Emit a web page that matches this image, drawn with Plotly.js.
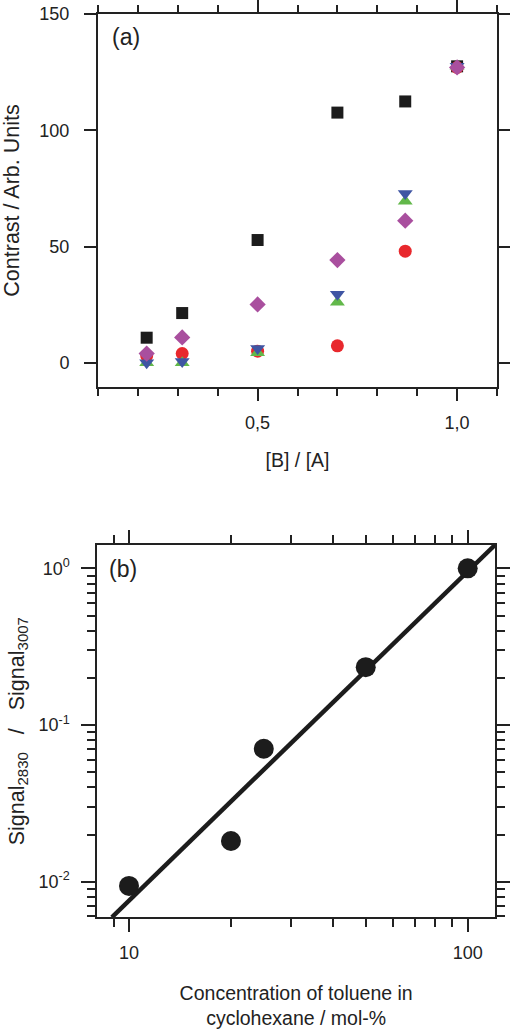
<!DOCTYPE html>
<html>
<head>
<meta charset="utf-8">
<script src="https://cdn.plot.ly/plotly-3.0.1.min.js"></script>
<style>html,body{margin:0;padding:0;background:#fff;}#chart{width:510px;height:1033px;}</style>
</head>
<body>
<div id="chart"></div>
<script>
// Panel (a)
const ratioBA = [0.222, 0.311, 0.5, 0.7, 0.87, 1.0];
const seriesSquare = [10.8, 21.4, 52.8, 107.6, 112.4, 127.5];
const seriesCircle = [3.0, 4.0, 5.0, 7.3, 48.0, 127.0];
const seriesTriUp = [0.0, 0.0, 4.3, 26.0, 69.5, 127.5];
const seriesTriDown = [0.0, 0.6, 6.2, 29.5, 72.8, 127.5];
const seriesDiamond = [4.0, 10.9, 25.1, 44.2, 61.1, 127.0];
const xTicksA = [0.5, 1.0];
const xTickTextA = ["0,5", "1,0"];
const yTicksA = [0, 50, 100, 150];

// Panel (b)
const tolueneConc = [10, 20, 25, 50, 100];
const signalRatio = [0.0094, 0.0182, 0.0706, 0.234, 1.0];
const fitConc = [8.9, 120.4];
const fitRatio = [0.00593, 1.41];
const xTicksB = [10, 100];
const xTickTextB = ["10", "100"];
const yTicksB = [0.01, 0.1, 1];
const yTickTextB = ["10<sup>-2</sup>", "10<sup>-1</sup>", "10<sup>0</sup>"];
const xMinorB = [8, 9, 20, 30, 40, 50, 60, 70, 80, 90, 200];
const yMinorB = [0.006, 0.007, 0.008, 0.009, 0.02, 0.03, 0.04, 0.05, 0.06, 0.07, 0.08, 0.09,
                 0.2, 0.3, 0.4, 0.5, 0.6, 0.7, 0.8, 0.9, 2];

const FAM = "Liberation Sans, Arial, sans-serif";
const TICKFONT = {family: FAM, size: 18, color: "#222"};
const XTITLE = {family: FAM, size: 19.5, color: "#222"};
const YTITLE = {family: FAM, size: 21.5, color: "#222"};
const AX = {
  showline: true, linewidth: 2, linecolor: "#222", mirror: "ticks",
  ticks: "outside", tickwidth: 2, tickcolor: "#222",
  showgrid: false, zeroline: false, tickfont: TICKFONT, automargin: false
};

const traces = [
  {x: ratioBA, y: seriesSquare, type: "scatter", mode: "markers", xaxis: "x", yaxis: "y",
   marker: {symbol: "square", size: 12, color: "#1c1c1c"}},
  {x: ratioBA, y: seriesCircle, type: "scatter", mode: "markers", xaxis: "x", yaxis: "y",
   marker: {symbol: "circle", size: 13, color: "#e8282d"}},
  {x: ratioBA, y: seriesTriUp, type: "scatter", mode: "markers", xaxis: "x", yaxis: "y",
   marker: {symbol: "triangle-up", size: 13, color: "#62b84a"}},
  {x: ratioBA, y: seriesTriDown, type: "scatter", mode: "markers", xaxis: "x", yaxis: "y",
   marker: {symbol: "triangle-down", size: 13, color: "#3f55a3"}},
  {x: ratioBA, y: seriesDiamond, type: "scatter", mode: "markers", xaxis: "x", yaxis: "y",
   marker: {symbol: "diamond", size: 12.5, color: "#a94f9e"}},
  {x: fitConc, y: fitRatio, type: "scatter", mode: "lines", xaxis: "x2", yaxis: "y2",
   line: {color: "#1c1c1c", width: 4.5}},
  {x: tolueneConc, y: signalRatio, type: "scatter", mode: "markers", xaxis: "x2", yaxis: "y2",
   marker: {symbol: "circle", size: 20, color: "#1c1c1c"}}
];

const layout = {
  width: 510, height: 1033,
  margin: {l: 0, r: 0, t: 0, b: 0},
  paper_bgcolor: "#fff", plot_bgcolor: "#fff",
  showlegend: false,
  separators: ",.",
  font: TICKFONT,
  xaxis: Object.assign({}, AX, {
    domain: [98/510, 497/510], anchor: "y", range: [0.1, 1.1],
    tickvals: xTicksA, ticktext: xTickTextA, ticklen: 12, ticklabelstandoff: 6,
    minor: {dtick: 0.1, tick0: 0, ticklen: 7, tickwidth: 2, tickcolor: "#222", ticks: "outside", showgrid: false},
    title: {text: "[B] / [A]", font: XTITLE, standoff: 22}
  }),
  yaxis: Object.assign({}, AX, {
    domain: [1 - 387/1033, 1 - 14/1033], anchor: "x", range: [-10.4, 150],
    tickvals: yTicksA, ticklen: 12, ticklabelstandoff: 11,
    title: {text: "Contrast / Arb. Units", font: YTITLE, standoff: 16}
  }),
  xaxis2: Object.assign({}, AX, {
    domain: [97.3/510, 495/510], anchor: "y2", type: "log", range: [0.9064, 2.0806],
    tickvals: xTicksB, ticktext: xTickTextB, ticklen: 13, ticklabelstandoff: 5,
    minor: {tickvals: xMinorB, ticklen: 8, tickwidth: 2, tickcolor: "#222", ticks: "outside", showgrid: false},
    title: {text: "Concentration of toluene in<br>cyclohexane / mol-%", font: XTITLE, standoff: 24}
  }),
  yaxis2: Object.assign({}, AX, {
    domain: [1 - 917.3/1033, 1 - 545/1033], anchor: "x2", type: "log", range: [-2.227, 0.149],
    tickvals: yTicksB, ticktext: yTickTextB, ticklen: 14, ticklabelstandoff: 8,
    minor: {tickvals: yMinorB, ticklen: 8, tickwidth: 2, tickcolor: "#222", ticks: "outside", showgrid: false},
    title: {text: "Signal<sub>2830</sub>\u00A0\u00A0\u00A0/\u00A0\u00A0\u00A0Signal<sub>3007</sub>", font: YTITLE, standoff: 8}
  }),
  annotations: [
    {text: "(a)", xref: "paper", yref: "paper", x: 126/510, y: 1 - 37/1033, xanchor: "center", yanchor: "middle",
     showarrow: false, font: {family: FAM, size: 23, color: "#222"}},
    {text: "(b)", xref: "paper", yref: "paper", x: 122.5/510, y: 1 - 569/1033, xanchor: "center", yanchor: "middle",
     showarrow: false, font: {family: FAM, size: 23, color: "#222"}}
  ]
};

Plotly.newPlot("chart", traces, layout, {displayModeBar: false, staticPlot: true});
</script>
</body>
</html>
